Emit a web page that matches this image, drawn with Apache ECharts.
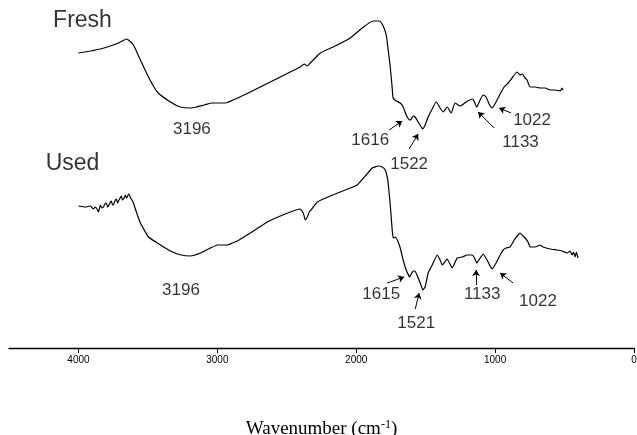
<!DOCTYPE html>
<html>
<head>
<meta charset="utf-8">
<script src="https://cdn.jsdelivr.net/npm/echarts@6/dist/echarts.min.js"></script>
<style>
  html, body { margin: 0; padding: 0; background: #fff; }
  #chart { width: 637px; height: 435px; }
</style>
</head>
<body>
<div id="chart"></div>
<script>
// FTIR spectra of the fresh and the used sample (transmittance, arbitrary units, offset)
const freshWavenumber = [4000, 3914, 3842, 3770, 3712, 3684, 3655, 3640, 3604, 3554, 3496, 3432, 3338, 3266, 3196, 3151, 3093, 3036, 2942, 2870, 2763, 2619, 2475, 2403, 2374, 2352, 2331, 2295, 2259, 2151, 2043, 1957, 1878, 1834, 1806, 1784, 1770, 1755, 1741, 1734, 1712, 1683, 1662, 1640, 1616, 1604, 1590, 1576, 1554, 1536, 1522, 1504, 1482, 1453, 1424, 1396, 1374, 1345, 1317, 1288, 1252, 1209, 1165, 1148, 1133, 1108, 1086, 1065, 1043, 1022, 993, 964, 935, 906, 878, 842, 820, 806, 784, 770, 748, 712, 676, 640, 604, 568, 532, 518, 511];
const freshIntensity  = [295, 297, 299, 302, 305, 307, 309, 308, 303, 288, 271, 256, 246, 241, 240, 241, 243, 245, 245, 249, 256, 266, 276, 281, 284, 282, 285, 290, 295, 302, 310, 320, 327, 327, 322, 313, 298, 281, 260, 250, 247, 245, 241, 233, 228, 229, 232, 231, 226, 222, 219, 223, 231, 239, 246, 240, 236, 241, 235, 245, 242, 246, 249, 246, 241, 248, 253, 251, 244, 240, 246, 254, 261, 265, 270, 276, 273, 274, 270, 268, 261, 261, 260, 260, 258, 258, 257, 260, 258];

const usedWavenumber = [4000, 3950, 3914, 3900, 3892, 3880, 3871, 3863, 3856, 3842, 3831, 3820, 3810, 3799, 3790, 3784, 3770, 3763, 3755, 3748, 3738, 3727, 3718, 3712, 3700, 3691, 3684, 3676, 3668, 3662, 3655, 3648, 3640, 3633, 3625, 3619, 3604, 3583, 3554, 3496, 3432, 3338, 3260, 3196, 3160, 3122, 3050, 3000, 2928, 2892, 2856, 2763, 2640, 2511, 2403, 2381, 2367, 2352, 2338, 2309, 2280, 2187, 2079, 1993, 1928, 1885, 1842, 1813, 1791, 1777, 1770, 1755, 1741, 1734, 1719, 1698, 1683, 1662, 1640, 1615, 1604, 1590, 1576, 1554, 1536, 1521, 1504, 1482, 1453, 1417, 1396, 1381, 1345, 1309, 1273, 1237, 1201, 1165, 1148, 1133, 1108, 1086, 1058, 1040, 1022, 993, 960, 942, 921, 892, 863, 835, 820, 799, 784, 763, 748, 712, 676, 655, 604, 554, 518, 482, 460, 446, 435, 424, 415, 403];
const usedIntensity  = [142, 141, 142, 140, 139, 141, 140, 138, 136, 143, 140, 141, 144, 145, 141, 142, 146, 147, 143, 143, 147, 149, 145, 147, 150, 152, 148, 149, 151, 153, 150, 151, 154, 153, 150, 149, 145, 136, 125, 111, 105, 97, 93, 92, 93, 95, 100, 103, 103, 105, 107, 115, 126, 134, 139, 135, 128, 131, 136, 141, 146, 152, 158, 163, 173, 180, 182, 181, 178, 171, 165, 143, 118, 110, 111, 106, 100, 88, 78, 71, 74, 77, 77, 70, 64, 58, 61, 75, 83, 93, 88, 83, 89, 80, 90, 91, 93, 93, 90, 85, 90, 94, 88, 83, 79, 85, 94, 98, 100, 101, 108, 113, 115, 112, 110, 106, 101, 101, 103, 101, 99, 98, 97, 95, 97, 93, 96, 91, 96, 90, 92];

// Sample names
const sampleNames = ['Fresh', 'Used'];
const sampleNameWavenumber = [3971, 4043];
const sampleNameIntensity = [327, 184];

// Band assignments: label, label anchor, arrow tail and arrow head
const bandLabels     = ['3196', '1616', '1522', '1133', '1022', '3196', '1615', '1521', '1133', '1022'];
const bandLabelWn    = [3183, 1899, 1619, 817, 734, 3262, 1820, 1568, 1093, 691];
const bandLabelVal   = [219, 208, 184, 206, 228, 58, 54, 25, 54, 47];
const arrowFromWn    = [null, 1763, 1619, 1007, 885, null, 1777, 1575, 1137, 870];
const arrowFromVal   = [null, 218, 199, 220, 235, null, 65, 39, 63, 65];
const arrowToWn      = [null, 1669, 1554, 1122, 971, null, 1655, 1547, 1137, 964];
const arrowToVal     = [null, 227, 214, 236, 240, null, 71, 55, 78, 75];

// Axis ticks
const majorTicks = [0, 1000, 2000, 3000, 4000];
const minorTicks = [500, 1500, 2500, 3500];

const zip = (a, b) => a.map((v, i) => [v, b[i]]);

const arrowLines = [];
for (let i = 0; i < bandLabels.length; i++) {
  if (arrowFromWn[i] === null) continue;
  arrowLines.push([
    { coord: [arrowFromWn[i], arrowFromVal[i]] },
    { coord: [arrowToWn[i], arrowToVal[i]] }
  ]);
}

const sansFont = '"Liberation Sans", Arial, sans-serif';
const serifFont = '"Liberation Serif", "Times New Roman", serif';
const xCommon = { type: 'value', min: 0, max: 4500, inverse: true, splitLine: { show: false } };

const chart = echarts.init(document.getElementById('chart'), null, { renderer: 'canvas' });
chart.setOption({
  animation: false,
  backgroundColor: '#fff',
  grid: { left: 9, right: 3, top: 0, bottom: 87, containLabel: false, outerBoundsMode: 'none' },
  xAxis: [
    Object.assign({}, xCommon, {
      axisLine: { show: true, lineStyle: { color: '#000', width: 1.3 } },
      axisTick: { show: true, customValues: majorTicks, length: 5, lineStyle: { color: '#000', width: 1 } },
      axisLabel: {
        show: true, customValues: majorTicks, color: '#000', fontSize: 10,
        fontFamily: sansFont, margin: 7,
        formatter: v => String(v)
      },
      name: 'Wavenumber (cm{sup|-1})',
      nameLocation: 'middle',
      nameGap: 71,
      nameTextStyle: {
        color: '#000', fontSize: 19, fontFamily: serifFont,
        rich: {
          sup: { fontSize: 12, fontFamily: serifFont, color: '#000', padding: [0, 0, 9, 0] }
        }
      }
    }),
    Object.assign({}, xCommon, {
      axisLine: { show: false },
      axisTick: { show: true, customValues: minorTicks, length: 3, lineStyle: { color: '#000', width: 1 } },
      axisLabel: { show: false }
    })
  ],
  yAxis: { type: 'value', min: 0, max: 348, show: false },
  series: [
    {
      name: 'Fresh', type: 'line', xAxisIndex: 0, data: zip(freshWavenumber, freshIntensity),
      showSymbol: false, smooth: 0.2, lineStyle: { color: '#000', width: 1.2 }
    },
    {
      name: 'Used', type: 'line', xAxisIndex: 0, data: zip(usedWavenumber, usedIntensity),
      showSymbol: false, smooth: 0.1, lineStyle: { color: '#000', width: 1.2 }
    },
    {
      name: 'names', type: 'scatter', symbolSize: 0, xAxisIndex: 0,
      data: sampleNames.map((n, i) => ({ value: [sampleNameWavenumber[i], sampleNameIntensity[i]], name: n })),
      label: {
        show: true, position: 'inside', formatter: p => p.name,
        color: '#000', fontSize: 23, fontFamily: sansFont
      }
    },
    {
      name: 'bands', type: 'scatter', symbolSize: 0, xAxisIndex: 0,
      data: bandLabels.map((n, i) => ({ value: [bandLabelWn[i], bandLabelVal[i]], name: n })),
      label: {
        show: true, position: 'inside', formatter: p => p.name,
        color: '#000', fontSize: 17, fontFamily: sansFont
      },
      markLine: {
        silent: true, symbol: ['none', 'arrow'], symbolSize: 6,
        lineStyle: { color: '#000', width: 1, type: 'solid' },
        label: { show: false },
        data: arrowLines
      }
    }
  ]
});
</script>
</body>
</html>
